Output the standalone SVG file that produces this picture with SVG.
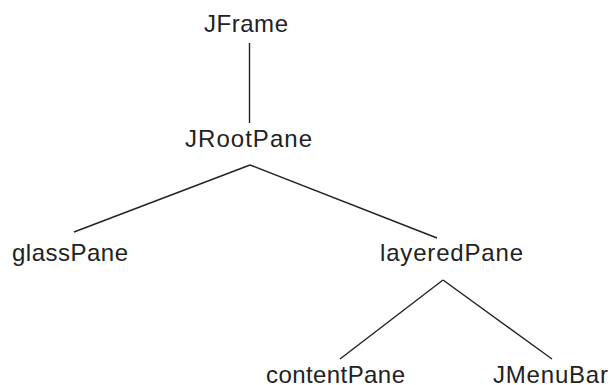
<svg xmlns="http://www.w3.org/2000/svg" width="613" height="385" viewBox="0 0 613 385">
<style>
.lbl{font-family:"Liberation Sans",Arial,sans-serif;font-size:24px;fill:#222;}
.edge{stroke:#222;stroke-width:1.4;fill:none;}
</style>
<rect width="613" height="385" fill="#fff"/>
<g id="connectors">
<line class="edge" x1="249.5" y1="43" x2="249.5" y2="123"/>
<line class="edge" x1="250" y1="165" x2="74" y2="232"/>
<line class="edge" x1="250" y1="165" x2="437" y2="238"/>
<line class="edge" x1="443" y1="280" x2="340" y2="359"/>
<line class="edge" x1="443" y1="280" x2="552" y2="359"/>
</g>
<g id="JFrame"><text class="lbl" x="204" y="32" textLength="84" lengthAdjust="spacing">JFrame</text></g>
<g id="JRootPane"><text class="lbl" x="185" y="147" textLength="127" lengthAdjust="spacing">JRootPane</text></g>
<g id="glassPane"><text class="lbl" x="12" y="261" textLength="116" lengthAdjust="spacing">glassPane</text></g>
<g id="layeredPane"><text class="lbl" x="380" y="261" textLength="143" lengthAdjust="spacing">layeredPane</text></g>
<g id="contentPane"><text class="lbl" x="266" y="383" textLength="139" lengthAdjust="spacing">contentPane</text></g>
<g id="JMenuBar"><text class="lbl" x="493" y="383" textLength="115" lengthAdjust="spacing">JMenuBar</text></g>
</svg>
